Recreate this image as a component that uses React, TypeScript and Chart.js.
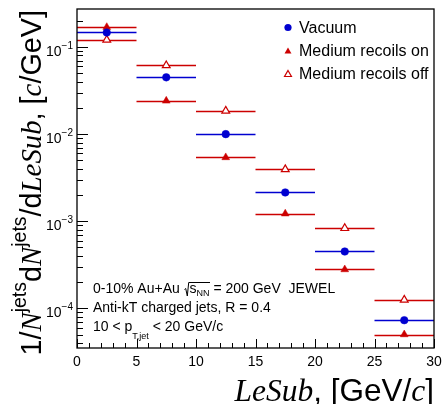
import React, { useEffect, useRef } from "react";
import { Chart, registerables } from "chart.js";

Chart.register(...registerables);

// ---------------- data ----------------
const binLow = [0, 5, 10, 15, 20, 25];
const binHigh = [5, 10, 15, 20, 25, 30];
const binCenter = [2.5, 7.5, 12.5, 17.5, 22.5, 27.5];
const vacuum = [0.147, 0.0449, 0.01, 0.00214, 0.000449, 7.3e-5];
const recoilsOn = [0.169, 0.0241, 0.0054, 0.00122, 0.000279, 5.0e-5];
const recoilsOff = [0.121, 0.0615, 0.0185, 0.00394, 0.00083, 0.000125];
const seriesNames = ["Vacuum", "Medium recoils on", "Medium recoils off"];
const xTickLabels = [0, 5, 10, 15, 20, 25, 30];
const yDecadeExponents = [-1, -2, -3, -4];
const xMin = 0;
const xMax = 30;
const yMin = 3.5e-5;
const yMax = 0.2735;

const BLUE = "#0000d0";
const RED = "#cc0000";
const SANS = "'Liberation Sans', Arial, Helvetica, sans-serif";
const SERIF = "'Liberation Serif', 'Times New Roman', serif";

type Seg = { t: string; font: string; dy?: number };

function segWidth(ctx: CanvasRenderingContext2D, segs: Seg[]) {
  let w = 0;
  const xs: number[] = [];
  for (const s of segs) {
    ctx.font = s.font;
    xs.push(w);
    w += ctx.measureText(s.t).width;
  }
  return { w, xs };
}

function drawRich(
  ctx: CanvasRenderingContext2D,
  segs: Seg[],
  x: number,
  y: number,
  align: "left" | "right" = "left"
) {
  const { w, xs } = segWidth(ctx, segs);
  const x0 = align === "left" ? x : x - w;
  ctx.textAlign = "left";
  ctx.textBaseline = "alphabetic";
  segs.forEach((s, i) => {
    ctx.font = s.font;
    ctx.fillText(s.t, x0 + xs[i], y + (s.dy || 0));
  });
  return { x0, xs: xs.map((v) => v + x0), w };
}

function drawMarker(
  ctx: CanvasRenderingContext2D,
  kind: "circle" | "tri" | "otri",
  x: number,
  y: number,
  r: number
) {
  ctx.save();
  ctx.beginPath();
  if (kind === "circle") {
    ctx.arc(x, y, r, 0, Math.PI * 2);
    ctx.fillStyle = BLUE;
    ctx.fill();
  } else {
    const h = r * 1.5;
    const side = r * Math.sqrt(3);
    ctx.moveTo(x, y - (2 * h) / 3);
    ctx.lineTo(x + side / 2, y + h / 3);
    ctx.lineTo(x - side / 2, y + h / 3);
    ctx.closePath();
    if (kind === "tri") {
      ctx.fillStyle = RED;
      ctx.fill();
    } else {
      ctx.fillStyle = "#ffffff";
      ctx.fill();
      ctx.strokeStyle = RED;
      ctx.lineWidth = 1.2;
      ctx.stroke();
    }
  }
  ctx.restore();
}

const seriesList = [
  { name: seriesNames[0], values: vacuum, color: BLUE },
  { name: seriesNames[1], values: recoilsOn, color: RED },
  { name: seriesNames[2], values: recoilsOff, color: RED },
];

const overlay = {
  id: "overlay",
  beforeDatasetsDraw(chart: any) {
    const { ctx } = chart;
    const xs = chart.scales.x;
    const ys = chart.scales.y;
    ctx.save();
    ctx.lineWidth = 1.3;
    seriesList.forEach((s) => {
      ctx.strokeStyle = s.color;
      s.values.forEach((v, i) => {
        const y = Math.round(ys.getPixelForValue(v)) + 0.5;
        ctx.beginPath();
        ctx.moveTo(xs.getPixelForValue(binLow[i]), y);
        ctx.lineTo(xs.getPixelForValue(binHigh[i]), y);
        ctx.stroke();
      });
    });
    ctx.restore();
  },
  afterDraw(chart: any) {
    const { ctx, chartArea } = chart;
    const { left, right, top, bottom } = chartArea;
    const xs = chart.scales.x;
    const ys = chart.scales.y;
    ctx.save();
    ctx.fillStyle = "#000";
    ctx.strokeStyle = "#000";

    // frame
    ctx.lineWidth = 1.3;
    ctx.strokeRect(left, top, right - left, bottom - top);

    // x ticks
    ctx.lineWidth = 1;
    for (let v = xMin; v <= xMax; v += 1) {
      const px = Math.round(xs.getPixelForValue(v)) + 0.5;
      const len = v % 5 === 0 ? 9 : 5;
      ctx.beginPath();
      ctx.moveTo(px, bottom);
      ctx.lineTo(px, bottom - len);
      ctx.stroke();
    }
    // y ticks
    for (let d = -6; d <= 0; d++) {
      for (let m = 1; m <= 9; m++) {
        const v = m * Math.pow(10, d);
        if (v < yMin || v > yMax) continue;
        const py = Math.round(ys.getPixelForValue(v)) + 0.5;
        const len = m === 1 ? 11 : 6;
        ctx.beginPath();
        ctx.moveTo(left, py);
        ctx.lineTo(left + len, py);
        ctx.stroke();
      }
    }

    // x tick labels
    ctx.font = `14px ${SANS}`;
    ctx.textAlign = "center";
    ctx.textBaseline = "alphabetic";
    xTickLabels.forEach((v) => {
      ctx.fillText(String(v), xs.getPixelForValue(v), bottom + 18);
    });

    // y tick labels
    yDecadeExponents.forEach((e) => {
      const py = ys.getPixelForValue(Math.pow(10, e));
      drawRich(
        ctx,
        [
          { t: "10", font: `14px ${SANS}`, dy: 9 },
          { t: "\u2212" + Math.abs(e), font: `10px ${SANS}`, dy: 2 },
        ],
        73,
        py,
        "right"
      );
    });

    // x axis title
    drawRich(
      ctx,
      [
        { t: "LeSub", font: `italic 31.5px ${SERIF}` },
        { t: ", [GeV/", font: `31.5px ${SANS}` },
        { t: "c", font: `italic 31.5px ${SERIF}` },
        { t: "]", font: `31.5px ${SANS}` },
      ],
      right,
      401,
      "right"
    );

    // y axis title (rotated)
    ctx.save();
    ctx.translate(41, 10);
    ctx.rotate(-Math.PI / 2);
    drawRich(
      ctx,
      [
        { t: "1/", font: `28.8px ${SANS}` },
        { t: "N", font: `italic 28.8px ${SERIF}` },
        { t: "jets", font: `19.5px ${SANS}`, dy: -15 },
        { t: "d", font: `28.8px ${SANS}` },
        { t: "N", font: `italic 28.8px ${SERIF}` },
        { t: "jets", font: `19.5px ${SANS}`, dy: -15 },
        { t: "/d", font: `28.8px ${SANS}` },
        { t: "LeSub", font: `italic 28.8px ${SERIF}` },
        { t: ", [", font: `28.8px ${SANS}` },
        { t: "c", font: `italic 28.8px ${SERIF}` },
        { t: "/GeV]", font: `28.8px ${SANS}` },
      ],
      0,
      0,
      "right"
    );
    ctx.restore();

    // legend
    const legX = 288;
    const legTextX = 299;
    const legRows = [
      { kind: "circle" as const, y: 27.5, r: 3.6 },
      { kind: "tri" as const, y: 50.5, r: 4 },
      { kind: "otri" as const, y: 73.5, r: 4 },
    ];
    legRows.forEach((row, i) => {
      drawMarker(ctx, row.kind, legX, row.y + (i === 0 ? 0 : 1), row.r);
      ctx.fillStyle = "#000";
      ctx.font = `16px ${SANS}`;
      ctx.textAlign = "left";
      ctx.textBaseline = "alphabetic";
      ctx.fillText(seriesList[i].name, legTextX, row.y + 5.8);
    });

    // annotation text
    ctx.fillStyle = "#000";
    const annX = 93;
    const f14 = `14px ${SANS}`;
    const fsub = `9px ${SANS}`;
    const l1 = drawRich(
      ctx,
      [
        { t: "0-10% Au+Au ", font: f14 },
        { t: "   ", font: `7px ${SANS}` },
        { t: "s", font: f14 },
        { t: "NN", font: fsub, dy: 3 },
        { t: " = 200 GeV  JEWEL", font: f14 },
      ],
      annX,
      293
    );
    // sqrt sign
    {
      const sx = l1.xs[2] - 5;
      const ex = l1.xs[4] + 0.5;
      ctx.beginPath();
      ctx.lineWidth = 1;
      ctx.moveTo(sx, 289.5);
      ctx.lineTo(sx + 1.2, 288.5);
      ctx.lineTo(sx + 2.8, 296);
      ctx.lineTo(sx + 4.2, 282.5);
      ctx.lineTo(ex, 282.5);
      ctx.stroke();
    }
    drawRich(ctx, [{ t: "Anti-kT charged jets, R = 0.4", font: f14 }], annX, 312);
    drawRich(
      ctx,
      [
        { t: "10 < p", font: f14 },
        { t: "T,jet", font: fsub, dy: 8 },
        { t: " < 20 GeV/c", font: f14 },
      ],
      annX,
      330.5
    );

    ctx.restore();
  },
};

export default function App() {
  const ref = useRef<HTMLCanvasElement | null>(null);
  useEffect(() => {
    if (!ref.current) return;
    const mk = (vals: number[]) => vals.map((v, i) => ({ x: binCenter[i], y: v }));
    const chart = new Chart(ref.current, {
      type: "scatter",
      data: {
        datasets: [
          {
            label: seriesNames[0],
            data: mk(vacuum),
            pointStyle: "circle",
            pointRadius: 3.8,
            backgroundColor: BLUE,
            borderColor: BLUE,
            borderWidth: 0.5,
          },
          {
            label: seriesNames[1],
            data: mk(recoilsOn),
            pointStyle: "triangle",
            pointRadius: 4.5,
            backgroundColor: RED,
            borderColor: RED,
            borderWidth: 0.5,
          },
          {
            label: seriesNames[2],
            data: mk(recoilsOff),
            pointStyle: "triangle",
            pointRadius: 4.5,
            backgroundColor: "#ffffff",
            borderColor: RED,
            borderWidth: 1.2,
          },
        ],
      },
      options: {
        responsive: false,
        animation: false,
        devicePixelRatio: 1,
        layout: { padding: { left: 77, right: 10, top: 9, bottom: 56 } },
        scales: {
          x: { type: "linear", min: xMin, max: xMax, display: false },
          y: { type: "logarithmic", min: yMin, max: yMax, display: false },
        },
        plugins: {
          legend: { display: false },
          tooltip: { enabled: false },
        },
      },
      plugins: [overlay],
    });
    return () => chart.destroy();
  }, []);
  return (
    <div style={{ position: "absolute", left: 0, top: 0, width: 444, height: 404, background: "#fff" }}>
      <canvas ref={ref} width={444} height={404} />
    </div>
  );
}
